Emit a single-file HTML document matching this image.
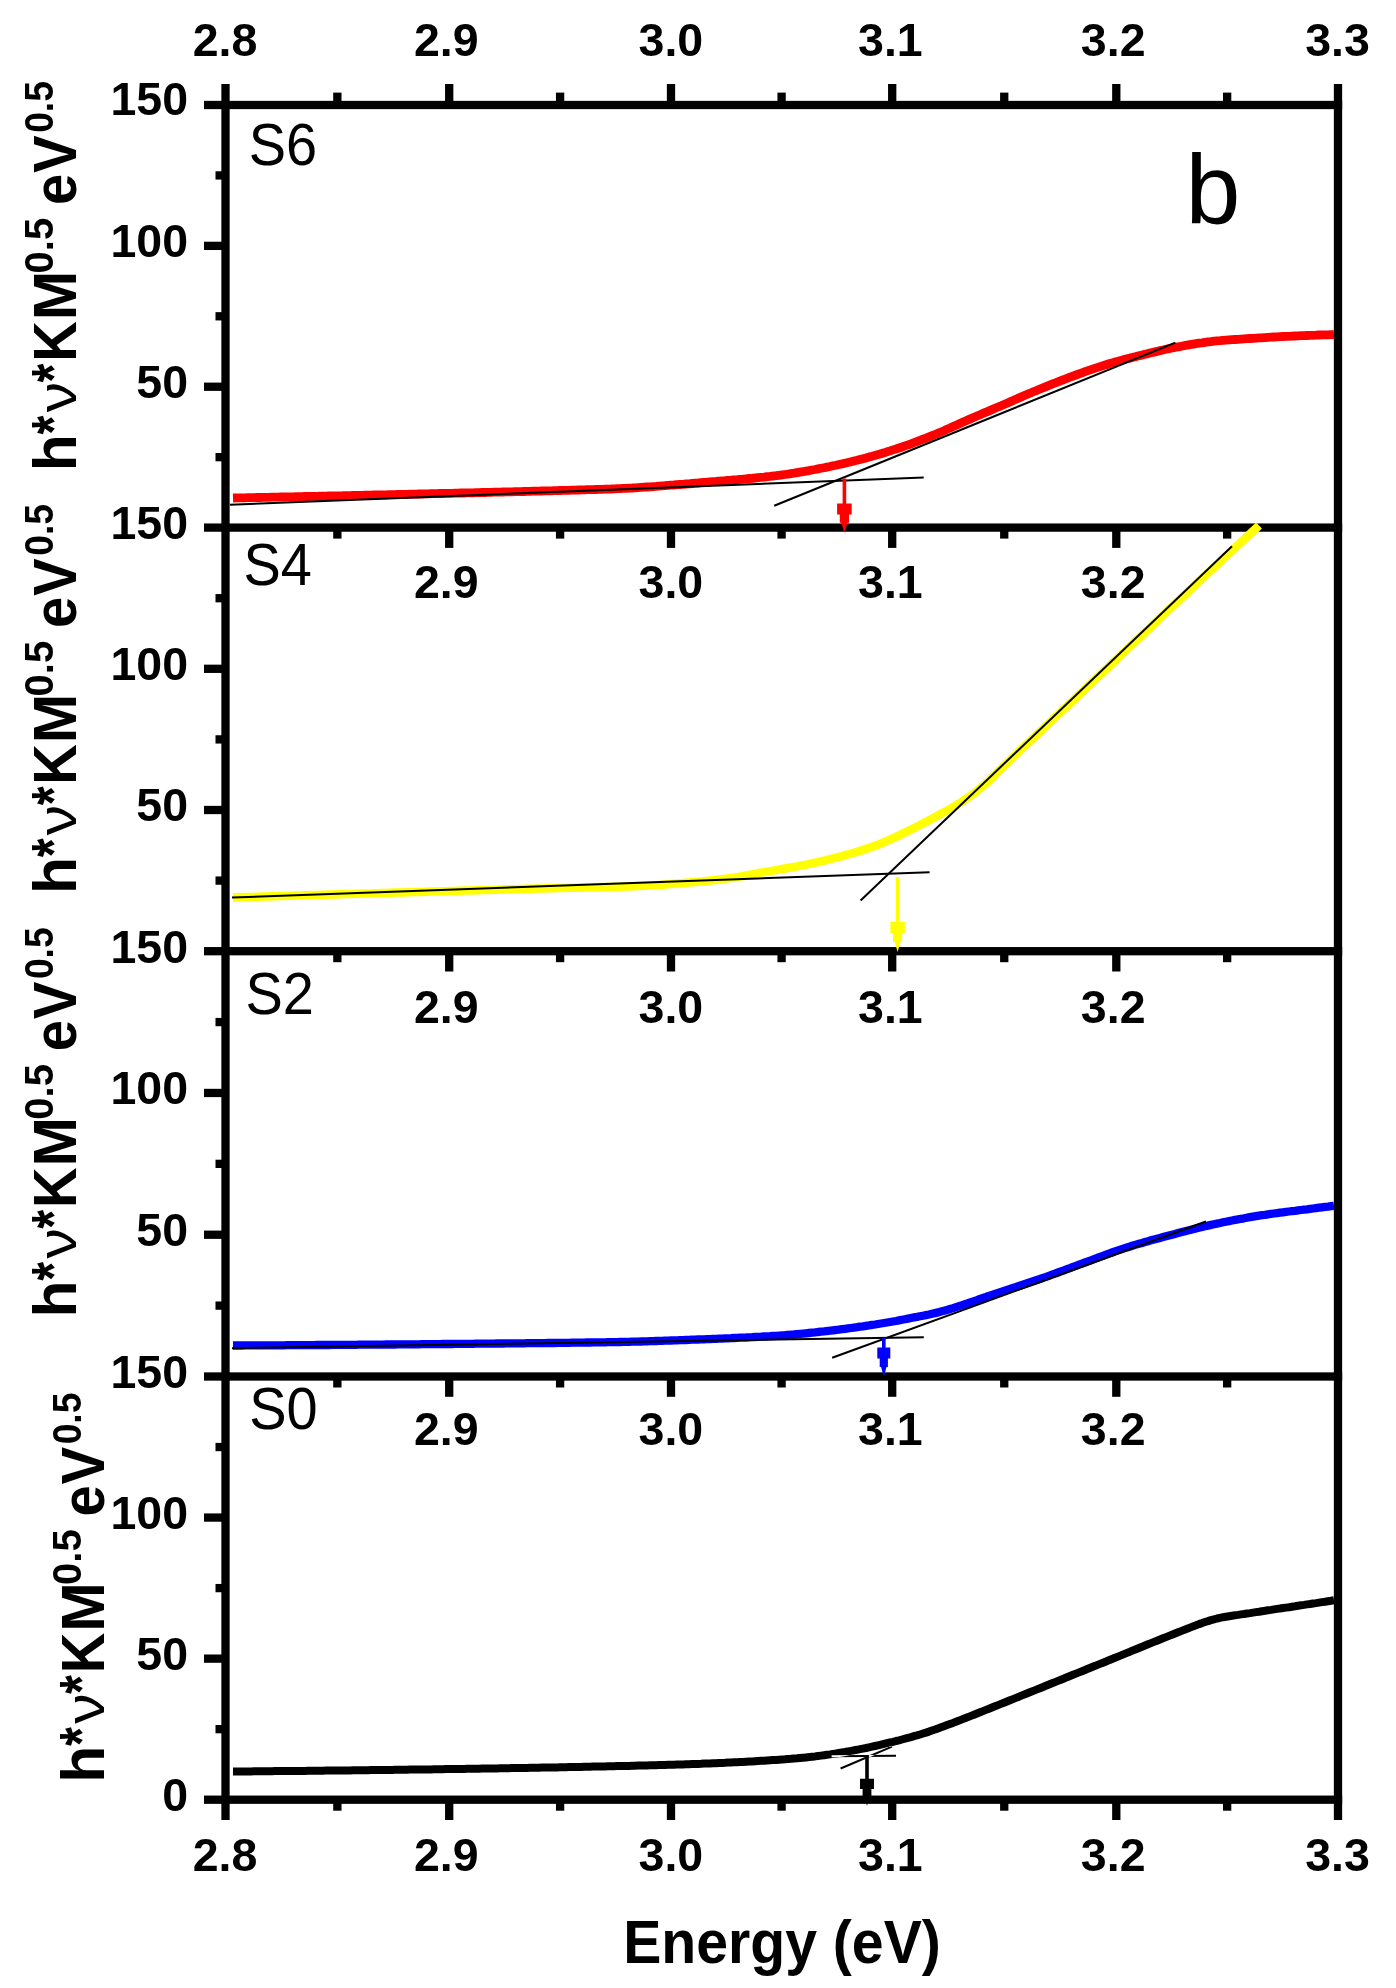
<!DOCTYPE html>
<html><head><meta charset="utf-8"><style>
html,body{margin:0;padding:0;background:#fff;}
svg{display:block;}
</style></head><body>
<svg width="1396" height="1988" viewBox="0 0 1396 1988">
<rect width="1396" height="1988" fill="#fff"/>
<rect x="221.35" y="84" width="8.3" height="1736" fill="#000"/>
<rect x="1333.85" y="84" width="8.3" height="1736" fill="#000"/>
<rect x="204" y="100.85" width="1138.15" height="8.3" fill="#000"/>
<rect x="204" y="523.45" width="1138.15" height="8.3" fill="#000"/>
<rect x="204" y="947.0500000000001" width="1138.15" height="8.3" fill="#000"/>
<rect x="204" y="1372.35" width="1138.15" height="8.3" fill="#000"/>
<rect x="204" y="1795.55" width="1138.15" height="8.3" fill="#000"/>
<rect x="445.05" y="84" width="8.3" height="21" fill="#000"/>
<rect x="666.85" y="84" width="8.3" height="21" fill="#000"/>
<rect x="888.0500000000001" y="84" width="8.3" height="21" fill="#000"/>
<rect x="1112.1499999999999" y="84" width="8.3" height="21" fill="#000"/>
<rect x="333.20000000000005" y="92.6" width="8.3" height="12.400000000000006" fill="#000"/>
<rect x="555.95" y="92.6" width="8.3" height="12.400000000000006" fill="#000"/>
<rect x="777.45" y="92.6" width="8.3" height="12.400000000000006" fill="#000"/>
<rect x="1000.1" y="92.6" width="8.3" height="12.400000000000006" fill="#000"/>
<rect x="1223.0" y="92.6" width="8.3" height="12.400000000000006" fill="#000"/>
<rect x="445.05" y="527.6" width="8.3" height="20.3" fill="#000"/>
<rect x="666.85" y="527.6" width="8.3" height="20.3" fill="#000"/>
<rect x="888.0500000000001" y="527.6" width="8.3" height="20.3" fill="#000"/>
<rect x="1112.1499999999999" y="527.6" width="8.3" height="20.3" fill="#000"/>
<rect x="333.20000000000005" y="527.6" width="8.3" height="11" fill="#000"/>
<rect x="555.95" y="527.6" width="8.3" height="11" fill="#000"/>
<rect x="777.45" y="527.6" width="8.3" height="11" fill="#000"/>
<rect x="1000.1" y="527.6" width="8.3" height="11" fill="#000"/>
<rect x="1223.0" y="527.6" width="8.3" height="11" fill="#000"/>
<rect x="445.05" y="951.2" width="8.3" height="20.3" fill="#000"/>
<rect x="666.85" y="951.2" width="8.3" height="20.3" fill="#000"/>
<rect x="888.0500000000001" y="951.2" width="8.3" height="20.3" fill="#000"/>
<rect x="1112.1499999999999" y="951.2" width="8.3" height="20.3" fill="#000"/>
<rect x="333.20000000000005" y="951.2" width="8.3" height="11" fill="#000"/>
<rect x="555.95" y="951.2" width="8.3" height="11" fill="#000"/>
<rect x="777.45" y="951.2" width="8.3" height="11" fill="#000"/>
<rect x="1000.1" y="951.2" width="8.3" height="11" fill="#000"/>
<rect x="1223.0" y="951.2" width="8.3" height="11" fill="#000"/>
<rect x="445.05" y="1376.5" width="8.3" height="20.3" fill="#000"/>
<rect x="666.85" y="1376.5" width="8.3" height="20.3" fill="#000"/>
<rect x="888.0500000000001" y="1376.5" width="8.3" height="20.3" fill="#000"/>
<rect x="1112.1499999999999" y="1376.5" width="8.3" height="20.3" fill="#000"/>
<rect x="333.20000000000005" y="1376.5" width="8.3" height="11" fill="#000"/>
<rect x="555.95" y="1376.5" width="8.3" height="11" fill="#000"/>
<rect x="777.45" y="1376.5" width="8.3" height="11" fill="#000"/>
<rect x="1000.1" y="1376.5" width="8.3" height="11" fill="#000"/>
<rect x="1223.0" y="1376.5" width="8.3" height="11" fill="#000"/>
<rect x="445.05" y="1799.7" width="8.3" height="20.3" fill="#000"/>
<rect x="666.85" y="1799.7" width="8.3" height="20.3" fill="#000"/>
<rect x="888.0500000000001" y="1799.7" width="8.3" height="20.3" fill="#000"/>
<rect x="1112.1499999999999" y="1799.7" width="8.3" height="20.3" fill="#000"/>
<rect x="333.20000000000005" y="1799.7" width="8.3" height="11" fill="#000"/>
<rect x="555.95" y="1799.7" width="8.3" height="11" fill="#000"/>
<rect x="777.45" y="1799.7" width="8.3" height="11" fill="#000"/>
<rect x="1000.1" y="1799.7" width="8.3" height="11" fill="#000"/>
<rect x="1223.0" y="1799.7" width="8.3" height="11" fill="#000"/>
<rect x="204" y="241.71666666666667" width="21.5" height="8.3" fill="#000"/>
<rect x="204" y="382.58333333333337" width="21.5" height="8.3" fill="#000"/>
<rect x="215.5" y="171.28333333333333" width="10.0" height="8.3" fill="#000"/>
<rect x="215.5" y="312.15000000000003" width="10.0" height="8.3" fill="#000"/>
<rect x="215.5" y="453.0166666666667" width="10.0" height="8.3" fill="#000"/>
<rect x="204" y="664.6500000000001" width="21.5" height="8.3" fill="#000"/>
<rect x="204" y="805.85" width="21.5" height="8.3" fill="#000"/>
<rect x="215.5" y="594.0500000000001" width="10.0" height="8.3" fill="#000"/>
<rect x="215.5" y="735.2500000000001" width="10.0" height="8.3" fill="#000"/>
<rect x="215.5" y="876.45" width="10.0" height="8.3" fill="#000"/>
<rect x="204" y="1088.8166666666666" width="21.5" height="8.3" fill="#000"/>
<rect x="204" y="1230.5833333333333" width="21.5" height="8.3" fill="#000"/>
<rect x="215.5" y="1017.9333333333334" width="10.0" height="8.3" fill="#000"/>
<rect x="215.5" y="1159.6999999999998" width="10.0" height="8.3" fill="#000"/>
<rect x="215.5" y="1301.4666666666667" width="10.0" height="8.3" fill="#000"/>
<rect x="204" y="1513.4166666666665" width="21.5" height="8.3" fill="#000"/>
<rect x="204" y="1654.4833333333333" width="21.5" height="8.3" fill="#000"/>
<rect x="215.5" y="1442.8833333333332" width="10.0" height="8.3" fill="#000"/>
<rect x="215.5" y="1583.9499999999998" width="10.0" height="8.3" fill="#000"/>
<rect x="215.5" y="1725.0166666666667" width="10.0" height="8.3" fill="#000"/>
<text x="188" y="114.6" text-anchor="end" font-family="Liberation Sans, sans-serif" font-weight="bold" font-size="46.5">150</text>
<text x="188" y="257.3" text-anchor="end" font-family="Liberation Sans, sans-serif" font-weight="bold" font-size="46.5">100</text>
<text x="188" y="398.1" text-anchor="end" font-family="Liberation Sans, sans-serif" font-weight="bold" font-size="46.5">50</text>
<text x="188" y="539.0" text-anchor="end" font-family="Liberation Sans, sans-serif" font-weight="bold" font-size="46.5">150</text>
<text x="188" y="680.2" text-anchor="end" font-family="Liberation Sans, sans-serif" font-weight="bold" font-size="46.5">100</text>
<text x="188" y="821.4" text-anchor="end" font-family="Liberation Sans, sans-serif" font-weight="bold" font-size="46.5">50</text>
<text x="188" y="962.6" text-anchor="end" font-family="Liberation Sans, sans-serif" font-weight="bold" font-size="46.5">150</text>
<text x="188" y="1104.4" text-anchor="end" font-family="Liberation Sans, sans-serif" font-weight="bold" font-size="46.5">100</text>
<text x="188" y="1246.1" text-anchor="end" font-family="Liberation Sans, sans-serif" font-weight="bold" font-size="46.5">50</text>
<text x="188" y="1387.9" text-anchor="end" font-family="Liberation Sans, sans-serif" font-weight="bold" font-size="46.5">150</text>
<text x="188" y="1529.0" text-anchor="end" font-family="Liberation Sans, sans-serif" font-weight="bold" font-size="46.5">100</text>
<text x="188" y="1670.0" text-anchor="end" font-family="Liberation Sans, sans-serif" font-weight="bold" font-size="46.5">50</text>
<text x="188" y="1811.1" text-anchor="end" font-family="Liberation Sans, sans-serif" font-weight="bold" font-size="46.5">0</text>
<text x="225.0" y="55.6" text-anchor="middle" font-family="Liberation Sans, sans-serif" font-weight="bold" font-size="46.5">2.8</text>
<text x="446.3" y="55.6" text-anchor="middle" font-family="Liberation Sans, sans-serif" font-weight="bold" font-size="46.5">2.9</text>
<text x="670.9" y="55.6" text-anchor="middle" font-family="Liberation Sans, sans-serif" font-weight="bold" font-size="46.5">3.0</text>
<text x="890.4" y="55.6" text-anchor="middle" font-family="Liberation Sans, sans-serif" font-weight="bold" font-size="46.5">3.1</text>
<text x="1113.2" y="55.6" text-anchor="middle" font-family="Liberation Sans, sans-serif" font-weight="bold" font-size="46.5">3.2</text>
<text x="1337.5" y="55.6" text-anchor="middle" font-family="Liberation Sans, sans-serif" font-weight="bold" font-size="46.5">3.3</text>
<text x="446.3" y="598.4" text-anchor="middle" font-family="Liberation Sans, sans-serif" font-weight="bold" font-size="46.5">2.9</text>
<text x="670.9" y="598.4" text-anchor="middle" font-family="Liberation Sans, sans-serif" font-weight="bold" font-size="46.5">3.0</text>
<text x="890.4" y="598.4" text-anchor="middle" font-family="Liberation Sans, sans-serif" font-weight="bold" font-size="46.5">3.1</text>
<text x="1113.2" y="598.4" text-anchor="middle" font-family="Liberation Sans, sans-serif" font-weight="bold" font-size="46.5">3.2</text>
<text x="446.3" y="1022.6" text-anchor="middle" font-family="Liberation Sans, sans-serif" font-weight="bold" font-size="46.5">2.9</text>
<text x="670.9" y="1022.6" text-anchor="middle" font-family="Liberation Sans, sans-serif" font-weight="bold" font-size="46.5">3.0</text>
<text x="890.4" y="1022.6" text-anchor="middle" font-family="Liberation Sans, sans-serif" font-weight="bold" font-size="46.5">3.1</text>
<text x="1113.2" y="1022.6" text-anchor="middle" font-family="Liberation Sans, sans-serif" font-weight="bold" font-size="46.5">3.2</text>
<text x="446.3" y="1445.0" text-anchor="middle" font-family="Liberation Sans, sans-serif" font-weight="bold" font-size="46.5">2.9</text>
<text x="670.9" y="1445.0" text-anchor="middle" font-family="Liberation Sans, sans-serif" font-weight="bold" font-size="46.5">3.0</text>
<text x="890.4" y="1445.0" text-anchor="middle" font-family="Liberation Sans, sans-serif" font-weight="bold" font-size="46.5">3.1</text>
<text x="1113.2" y="1445.0" text-anchor="middle" font-family="Liberation Sans, sans-serif" font-weight="bold" font-size="46.5">3.2</text>
<text x="225.0" y="1871" text-anchor="middle" font-family="Liberation Sans, sans-serif" font-weight="bold" font-size="46.5">2.8</text>
<text x="446.3" y="1871" text-anchor="middle" font-family="Liberation Sans, sans-serif" font-weight="bold" font-size="46.5">2.9</text>
<text x="670.9" y="1871" text-anchor="middle" font-family="Liberation Sans, sans-serif" font-weight="bold" font-size="46.5">3.0</text>
<text x="890.4" y="1871" text-anchor="middle" font-family="Liberation Sans, sans-serif" font-weight="bold" font-size="46.5">3.1</text>
<text x="1113.2" y="1871" text-anchor="middle" font-family="Liberation Sans, sans-serif" font-weight="bold" font-size="46.5">3.2</text>
<text x="1337.5" y="1871" text-anchor="middle" font-family="Liberation Sans, sans-serif" font-weight="bold" font-size="46.5">3.3</text>
<text transform="translate(248.7,165.3) scale(0.94,1)" font-family="Liberation Sans, sans-serif" font-size="59.5">S6</text>
<text transform="translate(243.5,584.7) scale(0.94,1)" font-family="Liberation Sans, sans-serif" font-size="59.5">S4</text>
<text transform="translate(245.5,1014) scale(0.94,1)" font-family="Liberation Sans, sans-serif" font-size="59.5">S2</text>
<text transform="translate(249.2,1428.6) scale(0.94,1)" font-family="Liberation Sans, sans-serif" font-size="59.5">S0</text>
<text x="1185.5" y="223" font-family="Liberation Sans, sans-serif" font-size="98.7">b</text>
<text transform="translate(76.00,471.22) rotate(-90) scale(1.0,1)" font-family="Liberation Sans, sans-serif" font-weight="bold" font-size="60.5">h</text>
<text transform="translate(74.00,434.44) rotate(-90) scale(0.8,1)" font-family="Liberation Sans, sans-serif" font-weight="bold" font-size="60.5">*</text>
<text transform="translate(76.00,412.30) rotate(-90) scale(1.1,1)" font-family="Liberation Sans, sans-serif" font-weight="normal" font-size="55">ν</text>
<text transform="translate(74.00,382.44) rotate(-90) scale(0.8,1)" font-family="Liberation Sans, sans-serif" font-weight="bold" font-size="60.5">*</text>
<text transform="translate(76.00,361.76) rotate(-90) scale(0.93,1)" font-family="Liberation Sans, sans-serif" font-weight="bold" font-size="60.5">K</text>
<text transform="translate(76.00,320.37) rotate(-90) scale(0.98,1)" font-family="Liberation Sans, sans-serif" font-weight="bold" font-size="60.5">M</text>
<text transform="translate(52.70,273.48) rotate(-90) scale(1.0,1)" font-family="Liberation Sans, sans-serif" font-weight="bold" font-size="40">0.5</text>
<text transform="translate(76.00,205.00) rotate(-90) scale(0.93,1)" font-family="Liberation Sans, sans-serif" font-weight="bold" font-size="60.5">e</text>
<text transform="translate(76.00,172.98) rotate(-90) scale(0.93,1)" font-family="Liberation Sans, sans-serif" font-weight="bold" font-size="60.5">V</text>
<text transform="translate(52.70,132.87) rotate(-90) scale(0.93,1)" font-family="Liberation Sans, sans-serif" font-weight="bold" font-size="40">0.5</text>
<text transform="translate(76.00,894.12) rotate(-90) scale(1.0,1)" font-family="Liberation Sans, sans-serif" font-weight="bold" font-size="60.5">h</text>
<text transform="translate(74.00,857.34) rotate(-90) scale(0.8,1)" font-family="Liberation Sans, sans-serif" font-weight="bold" font-size="60.5">*</text>
<text transform="translate(76.00,835.20) rotate(-90) scale(1.1,1)" font-family="Liberation Sans, sans-serif" font-weight="normal" font-size="55">ν</text>
<text transform="translate(74.00,805.34) rotate(-90) scale(0.8,1)" font-family="Liberation Sans, sans-serif" font-weight="bold" font-size="60.5">*</text>
<text transform="translate(76.00,784.66) rotate(-90) scale(0.93,1)" font-family="Liberation Sans, sans-serif" font-weight="bold" font-size="60.5">K</text>
<text transform="translate(76.00,743.27) rotate(-90) scale(0.98,1)" font-family="Liberation Sans, sans-serif" font-weight="bold" font-size="60.5">M</text>
<text transform="translate(52.70,696.38) rotate(-90) scale(1.0,1)" font-family="Liberation Sans, sans-serif" font-weight="bold" font-size="40">0.5</text>
<text transform="translate(76.00,627.90) rotate(-90) scale(0.93,1)" font-family="Liberation Sans, sans-serif" font-weight="bold" font-size="60.5">e</text>
<text transform="translate(76.00,595.88) rotate(-90) scale(0.93,1)" font-family="Liberation Sans, sans-serif" font-weight="bold" font-size="60.5">V</text>
<text transform="translate(52.70,555.77) rotate(-90) scale(0.93,1)" font-family="Liberation Sans, sans-serif" font-weight="bold" font-size="40">0.5</text>
<text transform="translate(76.00,1317.42) rotate(-90) scale(1.0,1)" font-family="Liberation Sans, sans-serif" font-weight="bold" font-size="60.5">h</text>
<text transform="translate(74.00,1280.64) rotate(-90) scale(0.8,1)" font-family="Liberation Sans, sans-serif" font-weight="bold" font-size="60.5">*</text>
<text transform="translate(76.00,1258.50) rotate(-90) scale(1.1,1)" font-family="Liberation Sans, sans-serif" font-weight="normal" font-size="55">ν</text>
<text transform="translate(74.00,1228.64) rotate(-90) scale(0.8,1)" font-family="Liberation Sans, sans-serif" font-weight="bold" font-size="60.5">*</text>
<text transform="translate(76.00,1207.96) rotate(-90) scale(0.93,1)" font-family="Liberation Sans, sans-serif" font-weight="bold" font-size="60.5">K</text>
<text transform="translate(76.00,1166.57) rotate(-90) scale(0.98,1)" font-family="Liberation Sans, sans-serif" font-weight="bold" font-size="60.5">M</text>
<text transform="translate(52.70,1119.68) rotate(-90) scale(1.0,1)" font-family="Liberation Sans, sans-serif" font-weight="bold" font-size="40">0.5</text>
<text transform="translate(76.00,1051.20) rotate(-90) scale(0.93,1)" font-family="Liberation Sans, sans-serif" font-weight="bold" font-size="60.5">e</text>
<text transform="translate(76.00,1019.18) rotate(-90) scale(0.93,1)" font-family="Liberation Sans, sans-serif" font-weight="bold" font-size="60.5">V</text>
<text transform="translate(52.70,979.07) rotate(-90) scale(0.93,1)" font-family="Liberation Sans, sans-serif" font-weight="bold" font-size="40">0.5</text>
<text transform="translate(104.00,1782.72) rotate(-90) scale(1.0,1)" font-family="Liberation Sans, sans-serif" font-weight="bold" font-size="60.5">h</text>
<text transform="translate(102.00,1745.94) rotate(-90) scale(0.8,1)" font-family="Liberation Sans, sans-serif" font-weight="bold" font-size="60.5">*</text>
<text transform="translate(104.00,1723.80) rotate(-90) scale(1.1,1)" font-family="Liberation Sans, sans-serif" font-weight="normal" font-size="55">ν</text>
<text transform="translate(102.00,1693.94) rotate(-90) scale(0.8,1)" font-family="Liberation Sans, sans-serif" font-weight="bold" font-size="60.5">*</text>
<text transform="translate(104.00,1673.26) rotate(-90) scale(0.93,1)" font-family="Liberation Sans, sans-serif" font-weight="bold" font-size="60.5">K</text>
<text transform="translate(104.00,1631.87) rotate(-90) scale(0.98,1)" font-family="Liberation Sans, sans-serif" font-weight="bold" font-size="60.5">M</text>
<text transform="translate(80.70,1584.98) rotate(-90) scale(1.0,1)" font-family="Liberation Sans, sans-serif" font-weight="bold" font-size="40">0.5</text>
<text transform="translate(104.00,1516.50) rotate(-90) scale(0.93,1)" font-family="Liberation Sans, sans-serif" font-weight="bold" font-size="60.5">e</text>
<text transform="translate(104.00,1484.48) rotate(-90) scale(0.93,1)" font-family="Liberation Sans, sans-serif" font-weight="bold" font-size="60.5">V</text>
<text transform="translate(80.70,1444.37) rotate(-90) scale(0.93,1)" font-family="Liberation Sans, sans-serif" font-weight="bold" font-size="40">0.5</text>
<text transform="translate(782,1963.3) scale(0.945,1)" text-anchor="middle" font-family="Liberation Sans, sans-serif" font-weight="bold" font-size="60.5">Energy (eV)</text>
<path d="M233.0,498.0 L236.0,497.9 L239.0,497.9 L242.0,497.8 L245.0,497.8 L248.0,497.7 L251.0,497.6 L254.0,497.6 L257.0,497.5 L260.0,497.5 L263.0,497.4 L266.0,497.3 L269.0,497.3 L272.0,497.2 L275.0,497.2 L278.0,497.1 L281.0,497.0 L284.0,497.0 L287.0,496.9 L290.0,496.9 L293.0,496.8 L296.0,496.7 L299.0,496.7 L302.0,496.6 L305.0,496.5 L308.0,496.5 L311.0,496.4 L314.0,496.4 L317.0,496.3 L320.0,496.2 L323.0,496.2 L326.0,496.1 L329.0,496.0 L332.0,496.0 L335.0,495.9 L338.0,495.8 L341.0,495.8 L344.0,495.7 L347.0,495.6 L350.0,495.6 L353.0,495.5 L356.0,495.4 L359.0,495.4 L362.0,495.3 L365.0,495.2 L368.0,495.2 L371.0,495.1 L374.0,495.0 L377.0,495.0 L380.0,494.9 L383.0,494.8 L386.0,494.8 L389.0,494.7 L392.0,494.6 L395.0,494.6 L398.0,494.5 L401.0,494.4 L404.0,494.4 L407.0,494.3 L410.0,494.2 L413.0,494.2 L416.0,494.1 L419.0,494.0 L422.0,494.0 L425.0,493.9 L428.0,493.8 L431.0,493.7 L434.0,493.7 L437.0,493.6 L440.0,493.5 L443.0,493.5 L446.0,493.4 L449.0,493.3 L452.0,493.3 L455.0,493.2 L458.0,493.1 L461.0,493.0 L464.0,493.0 L467.0,492.9 L470.0,492.8 L473.0,492.8 L476.0,492.7 L479.0,492.6 L482.0,492.5 L485.0,492.5 L488.0,492.4 L491.0,492.3 L494.0,492.2 L497.0,492.2 L500.0,492.1 L503.0,492.0 L506.0,491.9 L509.0,491.9 L512.0,491.8 L515.0,491.7 L518.0,491.6 L521.0,491.6 L524.0,491.5 L527.0,491.4 L530.0,491.3 L533.0,491.2 L536.0,491.2 L539.0,491.1 L542.0,491.0 L545.0,490.9 L548.0,490.8 L551.0,490.8 L554.0,490.7 L557.0,490.6 L560.0,490.5 L563.0,490.4 L566.0,490.3 L569.0,490.3 L572.0,490.2 L575.0,490.1 L578.0,490.0 L581.0,489.9 L584.0,489.8 L587.0,489.7 L590.0,489.7 L593.0,489.6 L596.0,489.5 L599.0,489.4 L602.0,489.3 L605.0,489.2 L608.0,489.1 L611.0,489.0 L614.0,488.8 L617.0,488.7 L620.0,488.6 L623.0,488.4 L626.0,488.3 L629.0,488.1 L632.0,488.0 L635.0,487.8 L638.0,487.6 L641.0,487.4 L644.0,487.2 L647.0,487.0 L650.0,486.8 L653.0,486.6 L656.0,486.4 L659.0,486.1 L662.0,485.9 L665.0,485.7 L668.0,485.4 L671.0,485.2 L674.0,485.0 L677.0,484.7 L680.0,484.5 L683.0,484.3 L686.0,484.0 L689.0,483.8 L692.0,483.5 L695.0,483.2 L698.0,483.0 L701.0,482.7 L704.0,482.4 L707.0,482.2 L710.0,481.9 L713.0,481.6 L716.0,481.4 L719.0,481.1 L722.0,480.8 L725.0,480.6 L728.0,480.3 L731.0,480.1 L734.0,479.8 L737.0,479.6 L740.0,479.3 L743.0,479.1 L746.0,478.8 L749.0,478.5 L752.0,478.3 L755.0,478.0 L758.0,477.7 L761.0,477.4 L764.0,477.1 L767.0,476.7 L770.0,476.4 L773.0,476.0 L776.0,475.7 L779.0,475.3 L782.0,474.9 L785.0,474.5 L788.0,474.1 L791.0,473.6 L794.0,473.2 L797.0,472.7 L800.0,472.2 L803.0,471.7 L806.0,471.1 L809.0,470.6 L812.0,470.0 L815.0,469.5 L818.0,468.9 L821.0,468.3 L824.0,467.7 L827.0,467.1 L830.0,466.5 L833.0,465.8 L836.0,465.2 L839.0,464.5 L842.0,463.9 L845.0,463.2 L848.0,462.5 L851.0,461.8 L854.0,461.0 L857.0,460.3 L860.0,459.5 L863.0,458.7 L866.0,457.9 L869.0,457.1 L872.0,456.3 L875.0,455.4 L878.0,454.6 L881.0,453.7 L884.0,452.8 L887.0,451.8 L890.0,450.9 L893.0,449.9 L896.0,449.0 L899.0,448.0 L902.0,447.0 L905.0,445.9 L908.0,444.9 L911.0,443.8 L914.0,442.7 L917.0,441.5 L920.0,440.4 L923.0,439.2 L926.0,438.1 L929.0,436.9 L932.0,435.7 L935.0,434.5 L938.0,433.2 L941.0,432.0 L944.0,430.7 L947.0,429.3 L950.0,428.0 L953.0,426.6 L956.0,425.3 L959.0,423.9 L962.0,422.6 L965.0,421.2 L968.0,419.9 L971.0,418.6 L974.0,417.3 L977.0,416.0 L980.0,414.7 L983.0,413.4 L986.0,412.2 L989.0,410.9 L992.0,409.6 L995.0,408.3 L998.0,407.0 L1001.0,405.8 L1004.0,404.5 L1007.0,403.2 L1010.0,401.9 L1013.0,400.6 L1016.0,399.2 L1019.0,397.9 L1022.0,396.6 L1025.0,395.3 L1028.0,394.0 L1031.0,392.8 L1034.0,391.5 L1037.0,390.3 L1040.0,389.0 L1043.0,387.8 L1046.0,386.6 L1049.0,385.4 L1052.0,384.2 L1055.0,383.0 L1058.0,381.8 L1061.0,380.6 L1064.0,379.5 L1067.0,378.3 L1070.0,377.2 L1073.0,376.1 L1076.0,375.0 L1079.0,373.9 L1082.0,372.8 L1085.0,371.7 L1088.0,370.7 L1091.0,369.7 L1094.0,368.6 L1097.0,367.6 L1100.0,366.6 L1103.0,365.7 L1106.0,364.7 L1109.0,363.8 L1112.0,362.9 L1115.0,362.1 L1118.0,361.3 L1121.0,360.4 L1124.0,359.6 L1127.0,358.8 L1130.0,358.1 L1133.0,357.3 L1136.0,356.6 L1139.0,355.8 L1142.0,355.1 L1145.0,354.3 L1148.0,353.6 L1151.0,352.8 L1154.0,352.1 L1157.0,351.4 L1160.0,350.6 L1163.0,350.0 L1166.0,349.3 L1169.0,348.6 L1172.0,348.0 L1175.0,347.4 L1178.0,346.8 L1181.0,346.3 L1184.0,345.7 L1187.0,345.2 L1190.0,344.7 L1193.0,344.2 L1196.0,343.7 L1199.0,343.2 L1202.0,342.8 L1205.0,342.3 L1208.0,341.9 L1211.0,341.6 L1214.0,341.2 L1217.0,340.9 L1220.0,340.7 L1223.0,340.4 L1226.0,340.1 L1229.0,339.9 L1232.0,339.7 L1235.0,339.5 L1238.0,339.3 L1241.0,339.1 L1244.0,338.9 L1247.0,338.7 L1250.0,338.5 L1253.0,338.3 L1256.0,338.1 L1259.0,337.9 L1262.0,337.8 L1265.0,337.6 L1268.0,337.4 L1271.0,337.2 L1274.0,337.0 L1277.0,336.9 L1280.0,336.7 L1283.0,336.5 L1286.0,336.4 L1289.0,336.3 L1292.0,336.1 L1295.0,336.0 L1298.0,335.9 L1301.0,335.7 L1304.0,335.6 L1307.0,335.5 L1310.0,335.4 L1313.0,335.3 L1316.0,335.2 L1319.0,335.0 L1322.0,334.9 L1325.0,334.9 L1328.0,334.8 L1331.0,334.7 L1334.0,334.6" fill="none" stroke="#ff0000" stroke-width="8.8" stroke-linejoin="round"/>
<line x1="230" y1="504.8" x2="923.7" y2="477.4" stroke="#000" stroke-width="2"/>
<line x1="774.2" y1="505.8" x2="1175.4" y2="342.6" stroke="#000" stroke-width="2"/>
<rect x="842.60" y="478.5" width="3.6" height="27.0" fill="#ff0000"/>
<path d="M837.1,503.5 L851.7,503.5 L851.7,514.6 L849.0,514.6 L849.0,522.8 L847.5,522.8 L844.4,532.7 L841.3,522.8 L839.8,522.8 L839.8,514.6 L837.1,514.6 Z" fill="#ff0000"/>
<path d="M233.0,897.5 L236.0,897.4 L239.0,897.3 L242.0,897.2 L245.0,897.1 L248.0,897.0 L251.0,896.9 L254.0,896.9 L257.0,896.8 L260.0,896.7 L263.0,896.6 L266.0,896.5 L269.0,896.4 L272.0,896.3 L275.0,896.2 L278.0,896.1 L281.0,896.0 L284.0,895.9 L287.0,895.9 L290.0,895.8 L293.0,895.7 L296.0,895.6 L299.0,895.5 L302.0,895.4 L305.0,895.3 L308.0,895.2 L311.0,895.1 L314.0,895.0 L317.0,895.0 L320.0,894.9 L323.0,894.8 L326.0,894.7 L329.0,894.6 L332.0,894.5 L335.0,894.4 L338.0,894.3 L341.0,894.2 L344.0,894.1 L347.0,894.1 L350.0,894.0 L353.0,893.9 L356.0,893.8 L359.0,893.7 L362.0,893.6 L365.0,893.5 L368.0,893.4 L371.0,893.4 L374.0,893.3 L377.0,893.2 L380.0,893.1 L383.0,893.0 L386.0,892.9 L389.0,892.8 L392.0,892.7 L395.0,892.6 L398.0,892.6 L401.0,892.5 L404.0,892.4 L407.0,892.3 L410.0,892.2 L413.0,892.1 L416.0,892.0 L419.0,891.9 L422.0,891.9 L425.0,891.8 L428.0,891.7 L431.0,891.6 L434.0,891.5 L437.0,891.4 L440.0,891.3 L443.0,891.2 L446.0,891.2 L449.0,891.1 L452.0,891.0 L455.0,890.9 L458.0,890.8 L461.0,890.7 L464.0,890.6 L467.0,890.5 L470.0,890.5 L473.0,890.4 L476.0,890.3 L479.0,890.2 L482.0,890.1 L485.0,890.0 L488.0,889.9 L491.0,889.9 L494.0,889.8 L497.0,889.7 L500.0,889.6 L503.0,889.5 L506.0,889.4 L509.0,889.3 L512.0,889.3 L515.0,889.2 L518.0,889.1 L521.0,889.0 L524.0,888.9 L527.0,888.8 L530.0,888.8 L533.0,888.7 L536.0,888.6 L539.0,888.5 L542.0,888.5 L545.0,888.4 L548.0,888.3 L551.0,888.2 L554.0,888.2 L557.0,888.1 L560.0,888.0 L563.0,888.0 L566.0,887.9 L569.0,887.8 L572.0,887.8 L575.0,887.7 L578.0,887.7 L581.0,887.6 L584.0,887.5 L587.0,887.5 L590.0,887.4 L593.0,887.3 L596.0,887.3 L599.0,887.2 L602.0,887.1 L605.0,887.1 L608.0,887.0 L611.0,886.9 L614.0,886.8 L617.0,886.8 L620.0,886.7 L623.0,886.6 L626.0,886.5 L629.0,886.4 L632.0,886.3 L635.0,886.2 L638.0,886.1 L641.0,885.9 L644.0,885.8 L647.0,885.7 L650.0,885.5 L653.0,885.3 L656.0,885.2 L659.0,885.0 L662.0,884.7 L665.0,884.5 L668.0,884.3 L671.0,884.1 L674.0,883.8 L677.0,883.6 L680.0,883.3 L683.0,883.1 L686.0,882.8 L689.0,882.6 L692.0,882.3 L695.0,882.0 L698.0,881.8 L701.0,881.5 L704.0,881.2 L707.0,880.9 L710.0,880.6 L713.0,880.2 L716.0,879.9 L719.0,879.6 L722.0,879.2 L725.0,878.8 L728.0,878.4 L731.0,878.0 L734.0,877.6 L737.0,877.1 L740.0,876.6 L743.0,876.1 L746.0,875.5 L749.0,875.0 L752.0,874.4 L755.0,873.8 L758.0,873.2 L761.0,872.6 L764.0,872.1 L767.0,871.6 L770.0,871.1 L773.0,870.6 L776.0,870.1 L779.0,869.6 L782.0,869.0 L785.0,868.5 L788.0,868.0 L791.0,867.5 L794.0,866.9 L797.0,866.4 L800.0,865.8 L803.0,865.2 L806.0,864.6 L809.0,863.9 L812.0,863.3 L815.0,862.6 L818.0,862.0 L821.0,861.3 L824.0,860.6 L827.0,859.9 L830.0,859.1 L833.0,858.4 L836.0,857.6 L839.0,856.9 L842.0,856.1 L845.0,855.2 L848.0,854.4 L851.0,853.6 L854.0,852.7 L857.0,851.8 L860.0,850.9 L863.0,849.9 L866.0,848.9 L869.0,847.9 L872.0,846.9 L875.0,845.8 L878.0,844.7 L881.0,843.5 L884.0,842.2 L887.0,840.9 L890.0,839.6 L893.0,838.2 L896.0,836.8 L899.0,835.4 L902.0,833.9 L905.0,832.4 L908.0,831.0 L911.0,829.5 L914.0,828.0 L917.0,826.5 L920.0,825.0 L923.0,823.4 L926.0,821.9 L929.0,820.3 L932.0,818.7 L935.0,817.1 L938.0,815.5 L941.0,813.8 L944.0,812.2 L947.0,810.6 L950.0,808.9 L953.0,807.2 L956.0,805.4 L959.0,803.5 L962.0,801.6 L965.0,799.6 L968.0,797.5 L971.0,795.4 L974.0,793.2 L977.0,790.9 L980.0,788.5 L983.0,786.0 L986.0,783.4 L989.0,780.6 L992.0,777.8 L995.0,774.8 L998.0,771.8 L1001.0,768.9 L1004.0,766.0 L1007.0,763.1 L1010.0,760.2 L1013.0,757.3 L1016.0,754.4 L1019.0,751.5 L1022.0,748.7 L1025.0,745.8 L1028.0,743.0 L1031.0,740.1 L1034.0,737.3 L1037.0,734.4 L1040.0,731.6 L1043.0,728.7 L1046.0,725.9 L1049.0,723.1 L1052.0,720.3 L1055.0,717.4 L1058.0,714.6 L1061.0,711.8 L1064.0,708.9 L1067.0,706.1 L1070.0,703.3 L1073.0,700.5 L1076.0,697.6 L1079.0,694.8 L1082.0,692.0 L1085.0,689.2 L1088.0,686.3 L1091.0,683.5 L1094.0,680.7 L1097.0,677.8 L1100.0,675.0 L1103.0,672.2 L1106.0,669.3 L1109.0,666.5 L1112.0,663.6 L1115.0,660.8 L1118.0,658.0 L1121.0,655.1 L1124.0,652.3 L1127.0,649.4 L1130.0,646.6 L1133.0,643.7 L1136.0,640.9 L1139.0,638.1 L1142.0,635.2 L1145.0,632.4 L1148.0,629.5 L1151.0,626.7 L1154.0,623.9 L1157.0,621.0 L1160.0,618.2 L1163.0,615.4 L1166.0,612.5 L1169.0,609.7 L1172.0,606.9 L1175.0,604.0 L1178.0,601.2 L1181.0,598.4 L1184.0,595.5 L1187.0,592.7 L1190.0,589.9 L1193.0,587.1 L1196.0,584.3 L1199.0,581.4 L1202.0,578.6 L1205.0,575.8 L1208.0,573.0 L1211.0,570.2 L1214.0,567.4 L1217.0,564.6 L1220.0,561.8 L1223.0,559.0 L1226.0,556.2 L1229.0,553.4 L1232.0,550.6 L1235.0,547.8 L1238.0,545.0 L1241.0,542.2 L1244.0,539.4 L1247.0,536.6 L1250.0,533.9 L1253.0,531.1 L1256.0,528.3 L1259.0,525.5" fill="none" stroke="#ffff00" stroke-width="8.5" stroke-linejoin="round"/>
<line x1="232" y1="897.5" x2="929.6" y2="872.2" stroke="#000" stroke-width="2"/>
<line x1="860.6" y1="900.5" x2="1232" y2="546.3" stroke="#000" stroke-width="2"/>
<rect x="895.80" y="877.3" width="3.6" height="46.5" fill="#ffff00"/>
<path d="M890.4,921.8 L904.8,921.8 L904.8,933.3 L902.1,933.3 L902.1,941.7 L900.6,941.7 L897.6,952 L894.6,941.7 L893.1,941.7 L893.1,933.3 L890.4,933.3 Z" fill="#ffff00"/>
<path d="M233.0,1345.5 L236.0,1345.5 L239.0,1345.5 L242.0,1345.5 L245.0,1345.4 L248.0,1345.4 L251.0,1345.4 L254.0,1345.4 L257.0,1345.4 L260.0,1345.4 L263.0,1345.4 L266.0,1345.3 L269.0,1345.3 L272.0,1345.3 L275.0,1345.3 L278.0,1345.3 L281.0,1345.3 L284.0,1345.3 L287.0,1345.2 L290.0,1345.2 L293.0,1345.2 L296.0,1345.2 L299.0,1345.2 L302.0,1345.1 L305.0,1345.1 L308.0,1345.1 L311.0,1345.1 L314.0,1345.1 L317.0,1345.0 L320.0,1345.0 L323.0,1345.0 L326.0,1345.0 L329.0,1345.0 L332.0,1344.9 L335.0,1344.9 L338.0,1344.9 L341.0,1344.9 L344.0,1344.9 L347.0,1344.8 L350.0,1344.8 L353.0,1344.8 L356.0,1344.8 L359.0,1344.7 L362.0,1344.7 L365.0,1344.7 L368.0,1344.7 L371.0,1344.7 L374.0,1344.6 L377.0,1344.6 L380.0,1344.6 L383.0,1344.6 L386.0,1344.5 L389.0,1344.5 L392.0,1344.5 L395.0,1344.5 L398.0,1344.4 L401.0,1344.4 L404.0,1344.4 L407.0,1344.4 L410.0,1344.3 L413.0,1344.3 L416.0,1344.3 L419.0,1344.3 L422.0,1344.2 L425.0,1344.2 L428.0,1344.2 L431.0,1344.1 L434.0,1344.1 L437.0,1344.1 L440.0,1344.1 L443.0,1344.0 L446.0,1344.0 L449.0,1344.0 L452.0,1344.0 L455.0,1343.9 L458.0,1343.9 L461.0,1343.9 L464.0,1343.8 L467.0,1343.8 L470.0,1343.8 L473.0,1343.8 L476.0,1343.7 L479.0,1343.7 L482.0,1343.7 L485.0,1343.6 L488.0,1343.6 L491.0,1343.6 L494.0,1343.6 L497.0,1343.5 L500.0,1343.5 L503.0,1343.5 L506.0,1343.4 L509.0,1343.4 L512.0,1343.4 L515.0,1343.4 L518.0,1343.3 L521.0,1343.3 L524.0,1343.3 L527.0,1343.2 L530.0,1343.2 L533.0,1343.2 L536.0,1343.1 L539.0,1343.1 L542.0,1343.1 L545.0,1343.1 L548.0,1343.0 L551.0,1343.0 L554.0,1343.0 L557.0,1342.9 L560.0,1342.9 L563.0,1342.8 L566.0,1342.8 L569.0,1342.8 L572.0,1342.7 L575.0,1342.7 L578.0,1342.7 L581.0,1342.6 L584.0,1342.6 L587.0,1342.5 L590.0,1342.5 L593.0,1342.4 L596.0,1342.4 L599.0,1342.4 L602.0,1342.3 L605.0,1342.3 L608.0,1342.2 L611.0,1342.2 L614.0,1342.1 L617.0,1342.1 L620.0,1342.0 L623.0,1341.9 L626.0,1341.9 L629.0,1341.8 L632.0,1341.7 L635.0,1341.7 L638.0,1341.6 L641.0,1341.5 L644.0,1341.4 L647.0,1341.3 L650.0,1341.2 L653.0,1341.1 L656.0,1341.0 L659.0,1340.9 L662.0,1340.8 L665.0,1340.7 L668.0,1340.6 L671.0,1340.5 L674.0,1340.4 L677.0,1340.3 L680.0,1340.2 L683.0,1340.1 L686.0,1340.0 L689.0,1339.9 L692.0,1339.7 L695.0,1339.6 L698.0,1339.5 L701.0,1339.4 L704.0,1339.3 L707.0,1339.2 L710.0,1339.1 L713.0,1338.9 L716.0,1338.8 L719.0,1338.7 L722.0,1338.6 L725.0,1338.4 L728.0,1338.3 L731.0,1338.2 L734.0,1338.0 L737.0,1337.9 L740.0,1337.7 L743.0,1337.6 L746.0,1337.5 L749.0,1337.3 L752.0,1337.2 L755.0,1337.0 L758.0,1336.8 L761.0,1336.7 L764.0,1336.5 L767.0,1336.3 L770.0,1336.2 L773.0,1336.0 L776.0,1335.8 L779.0,1335.6 L782.0,1335.4 L785.0,1335.2 L788.0,1334.9 L791.0,1334.7 L794.0,1334.5 L797.0,1334.2 L800.0,1333.9 L803.0,1333.6 L806.0,1333.3 L809.0,1333.0 L812.0,1332.7 L815.0,1332.4 L818.0,1332.0 L821.0,1331.7 L824.0,1331.4 L827.0,1331.0 L830.0,1330.7 L833.0,1330.3 L836.0,1330.0 L839.0,1329.6 L842.0,1329.2 L845.0,1328.8 L848.0,1328.4 L851.0,1328.0 L854.0,1327.6 L857.0,1327.2 L860.0,1326.7 L863.0,1326.3 L866.0,1325.8 L869.0,1325.4 L872.0,1324.9 L875.0,1324.5 L878.0,1324.0 L881.0,1323.5 L884.0,1323.0 L887.0,1322.5 L890.0,1322.0 L893.0,1321.5 L896.0,1321.0 L899.0,1320.4 L902.0,1319.8 L905.0,1319.2 L908.0,1318.6 L911.0,1318.0 L914.0,1317.4 L917.0,1316.9 L920.0,1316.3 L923.0,1315.7 L926.0,1315.1 L929.0,1314.5 L932.0,1313.8 L935.0,1313.1 L938.0,1312.4 L941.0,1311.6 L944.0,1310.8 L947.0,1309.9 L950.0,1309.0 L953.0,1308.1 L956.0,1307.1 L959.0,1306.1 L962.0,1305.2 L965.0,1304.2 L968.0,1303.2 L971.0,1302.1 L974.0,1301.1 L977.0,1300.1 L980.0,1299.0 L983.0,1298.0 L986.0,1297.0 L989.0,1295.9 L992.0,1294.9 L995.0,1293.9 L998.0,1292.9 L1001.0,1291.9 L1004.0,1290.9 L1007.0,1289.9 L1010.0,1288.9 L1013.0,1287.9 L1016.0,1287.0 L1019.0,1286.0 L1022.0,1285.0 L1025.0,1284.0 L1028.0,1283.0 L1031.0,1282.0 L1034.0,1281.0 L1037.0,1280.0 L1040.0,1279.0 L1043.0,1277.9 L1046.0,1276.9 L1049.0,1275.8 L1052.0,1274.7 L1055.0,1273.6 L1058.0,1272.5 L1061.0,1271.4 L1064.0,1270.3 L1067.0,1269.2 L1070.0,1268.1 L1073.0,1266.9 L1076.0,1265.8 L1079.0,1264.7 L1082.0,1263.6 L1085.0,1262.5 L1088.0,1261.4 L1091.0,1260.3 L1094.0,1259.2 L1097.0,1258.0 L1100.0,1256.9 L1103.0,1255.8 L1106.0,1254.7 L1109.0,1253.6 L1112.0,1252.5 L1115.0,1251.4 L1118.0,1250.4 L1121.0,1249.4 L1124.0,1248.4 L1127.0,1247.4 L1130.0,1246.5 L1133.0,1245.5 L1136.0,1244.6 L1139.0,1243.7 L1142.0,1242.9 L1145.0,1242.0 L1148.0,1241.2 L1151.0,1240.3 L1154.0,1239.5 L1157.0,1238.7 L1160.0,1237.9 L1163.0,1237.1 L1166.0,1236.3 L1169.0,1235.5 L1172.0,1234.7 L1175.0,1233.9 L1178.0,1233.1 L1181.0,1232.3 L1184.0,1231.5 L1187.0,1230.7 L1190.0,1230.0 L1193.0,1229.2 L1196.0,1228.4 L1199.0,1227.7 L1202.0,1227.0 L1205.0,1226.3 L1208.0,1225.6 L1211.0,1224.9 L1214.0,1224.2 L1217.0,1223.6 L1220.0,1223.0 L1223.0,1222.3 L1226.0,1221.7 L1229.0,1221.1 L1232.0,1220.5 L1235.0,1219.9 L1238.0,1219.4 L1241.0,1218.8 L1244.0,1218.3 L1247.0,1217.7 L1250.0,1217.2 L1253.0,1216.7 L1256.0,1216.2 L1259.0,1215.7 L1262.0,1215.2 L1265.0,1214.8 L1268.0,1214.3 L1271.0,1213.9 L1274.0,1213.5 L1277.0,1213.1 L1280.0,1212.7 L1283.0,1212.3 L1286.0,1211.9 L1289.0,1211.5 L1292.0,1211.1 L1295.0,1210.8 L1298.0,1210.4 L1301.0,1210.0 L1304.0,1209.6 L1307.0,1209.3 L1310.0,1208.9 L1313.0,1208.5 L1316.0,1208.1 L1319.0,1207.7 L1322.0,1207.3 L1325.0,1206.9 L1328.0,1206.6 L1331.0,1206.2 L1334.0,1205.8" fill="none" stroke="#0000ff" stroke-width="8.3" stroke-linejoin="round"/>
<line x1="232" y1="1348.2" x2="923.8" y2="1337.3" stroke="#000" stroke-width="2"/>
<line x1="832.2" y1="1357.7" x2="1205.9" y2="1221.5" stroke="#000" stroke-width="2"/>
<rect x="882.00" y="1338" width="3.6" height="11.400000000000091" fill="#0000ff"/>
<path d="M877.3,1347.4 L890.3,1347.4 L890.3,1358.6 L887.9,1358.6 L887.9,1366.9 L886.5,1366.9 L883.8,1377 L881.1,1366.9 L879.7,1366.9 L879.7,1358.6 L877.3,1358.6 Z" fill="#0000ff"/>
<path d="M233.0,1771.5 L236.0,1771.5 L239.0,1771.5 L242.0,1771.4 L245.0,1771.4 L248.0,1771.4 L251.0,1771.4 L254.0,1771.3 L257.0,1771.3 L260.0,1771.3 L263.0,1771.3 L266.0,1771.2 L269.0,1771.2 L272.0,1771.2 L275.0,1771.1 L278.0,1771.1 L281.0,1771.1 L284.0,1771.1 L287.0,1771.0 L290.0,1771.0 L293.0,1771.0 L296.0,1770.9 L299.0,1770.9 L302.0,1770.9 L305.0,1770.9 L308.0,1770.8 L311.0,1770.8 L314.0,1770.8 L317.0,1770.7 L320.0,1770.7 L323.0,1770.7 L326.0,1770.6 L329.0,1770.6 L332.0,1770.6 L335.0,1770.5 L338.0,1770.5 L341.0,1770.5 L344.0,1770.4 L347.0,1770.4 L350.0,1770.4 L353.0,1770.3 L356.0,1770.3 L359.0,1770.3 L362.0,1770.2 L365.0,1770.2 L368.0,1770.2 L371.0,1770.1 L374.0,1770.1 L377.0,1770.0 L380.0,1770.0 L383.0,1770.0 L386.0,1769.9 L389.0,1769.9 L392.0,1769.9 L395.0,1769.8 L398.0,1769.8 L401.0,1769.7 L404.0,1769.7 L407.0,1769.7 L410.0,1769.6 L413.0,1769.6 L416.0,1769.6 L419.0,1769.5 L422.0,1769.5 L425.0,1769.4 L428.0,1769.4 L431.0,1769.4 L434.0,1769.3 L437.0,1769.3 L440.0,1769.2 L443.0,1769.2 L446.0,1769.1 L449.0,1769.1 L452.0,1769.1 L455.0,1769.0 L458.0,1769.0 L461.0,1768.9 L464.0,1768.9 L467.0,1768.8 L470.0,1768.8 L473.0,1768.8 L476.0,1768.7 L479.0,1768.7 L482.0,1768.6 L485.0,1768.6 L488.0,1768.5 L491.0,1768.5 L494.0,1768.4 L497.0,1768.4 L500.0,1768.3 L503.0,1768.3 L506.0,1768.2 L509.0,1768.2 L512.0,1768.1 L515.0,1768.1 L518.0,1768.0 L521.0,1768.0 L524.0,1767.9 L527.0,1767.9 L530.0,1767.8 L533.0,1767.8 L536.0,1767.7 L539.0,1767.7 L542.0,1767.6 L545.0,1767.6 L548.0,1767.5 L551.0,1767.5 L554.0,1767.4 L557.0,1767.4 L560.0,1767.3 L563.0,1767.2 L566.0,1767.2 L569.0,1767.1 L572.0,1767.1 L575.0,1767.0 L578.0,1766.9 L581.0,1766.9 L584.0,1766.8 L587.0,1766.8 L590.0,1766.7 L593.0,1766.6 L596.0,1766.6 L599.0,1766.5 L602.0,1766.5 L605.0,1766.4 L608.0,1766.3 L611.0,1766.3 L614.0,1766.2 L617.0,1766.1 L620.0,1766.1 L623.0,1766.0 L626.0,1765.9 L629.0,1765.9 L632.0,1765.8 L635.0,1765.7 L638.0,1765.6 L641.0,1765.6 L644.0,1765.5 L647.0,1765.4 L650.0,1765.3 L653.0,1765.3 L656.0,1765.2 L659.0,1765.1 L662.0,1765.0 L665.0,1764.9 L668.0,1764.8 L671.0,1764.7 L674.0,1764.7 L677.0,1764.6 L680.0,1764.5 L683.0,1764.4 L686.0,1764.3 L689.0,1764.2 L692.0,1764.1 L695.0,1764.0 L698.0,1763.9 L701.0,1763.8 L704.0,1763.6 L707.0,1763.5 L710.0,1763.4 L713.0,1763.3 L716.0,1763.2 L719.0,1763.0 L722.0,1762.9 L725.0,1762.8 L728.0,1762.6 L731.0,1762.5 L734.0,1762.3 L737.0,1762.2 L740.0,1762.0 L743.0,1761.9 L746.0,1761.7 L749.0,1761.5 L752.0,1761.4 L755.0,1761.2 L758.0,1761.0 L761.0,1760.8 L764.0,1760.7 L767.0,1760.5 L770.0,1760.3 L773.0,1760.1 L776.0,1759.9 L779.0,1759.7 L782.0,1759.5 L785.0,1759.3 L788.0,1759.0 L791.0,1758.8 L794.0,1758.5 L797.0,1758.3 L800.0,1758.0 L803.0,1757.7 L806.0,1757.4 L809.0,1757.1 L812.0,1756.7 L815.0,1756.4 L818.0,1756.0 L821.0,1755.6 L824.0,1755.2 L827.0,1754.8 L830.0,1754.4 L833.0,1753.9 L836.0,1753.5 L839.0,1753.0 L842.0,1752.5 L845.0,1752.0 L848.0,1751.4 L851.0,1750.9 L854.0,1750.3 L857.0,1749.8 L860.0,1749.2 L863.0,1748.6 L866.0,1748.0 L869.0,1747.3 L872.0,1746.7 L875.0,1746.0 L878.0,1745.3 L881.0,1744.6 L884.0,1743.9 L887.0,1743.2 L890.0,1742.5 L893.0,1741.8 L896.0,1741.0 L899.0,1740.3 L902.0,1739.5 L905.0,1738.7 L908.0,1737.9 L911.0,1737.1 L914.0,1736.2 L917.0,1735.4 L920.0,1734.5 L923.0,1733.5 L926.0,1732.6 L929.0,1731.6 L932.0,1730.5 L935.0,1729.5 L938.0,1728.4 L941.0,1727.3 L944.0,1726.2 L947.0,1725.1 L950.0,1724.0 L953.0,1722.9 L956.0,1721.7 L959.0,1720.6 L962.0,1719.4 L965.0,1718.2 L968.0,1717.1 L971.0,1715.9 L974.0,1714.7 L977.0,1713.5 L980.0,1712.3 L983.0,1711.1 L986.0,1709.9 L989.0,1708.7 L992.0,1707.5 L995.0,1706.3 L998.0,1705.1 L1001.0,1703.9 L1004.0,1702.7 L1007.0,1701.5 L1010.0,1700.3 L1013.0,1699.1 L1016.0,1697.9 L1019.0,1696.7 L1022.0,1695.4 L1025.0,1694.2 L1028.0,1693.0 L1031.0,1691.8 L1034.0,1690.6 L1037.0,1689.4 L1040.0,1688.2 L1043.0,1687.0 L1046.0,1685.7 L1049.0,1684.5 L1052.0,1683.3 L1055.0,1682.1 L1058.0,1680.9 L1061.0,1679.7 L1064.0,1678.5 L1067.0,1677.2 L1070.0,1676.0 L1073.0,1674.8 L1076.0,1673.6 L1079.0,1672.4 L1082.0,1671.2 L1085.0,1670.0 L1088.0,1668.7 L1091.0,1667.5 L1094.0,1666.3 L1097.0,1665.1 L1100.0,1663.9 L1103.0,1662.7 L1106.0,1661.5 L1109.0,1660.2 L1112.0,1659.0 L1115.0,1657.8 L1118.0,1656.6 L1121.0,1655.4 L1124.0,1654.1 L1127.0,1652.9 L1130.0,1651.7 L1133.0,1650.4 L1136.0,1649.2 L1139.0,1648.0 L1142.0,1646.8 L1145.0,1645.5 L1148.0,1644.3 L1151.0,1643.1 L1154.0,1641.9 L1157.0,1640.7 L1160.0,1639.5 L1163.0,1638.3 L1166.0,1637.1 L1169.0,1635.9 L1172.0,1634.7 L1175.0,1633.5 L1178.0,1632.3 L1181.0,1631.1 L1184.0,1629.9 L1187.0,1628.8 L1190.0,1627.6 L1193.0,1626.4 L1196.0,1625.3 L1199.0,1624.1 L1202.0,1623.1 L1205.0,1622.0 L1208.0,1621.1 L1211.0,1620.1 L1214.0,1619.3 L1217.0,1618.5 L1220.0,1617.8 L1223.0,1617.2 L1226.0,1616.7 L1229.0,1616.2 L1232.0,1615.7 L1235.0,1615.3 L1238.0,1614.9 L1241.0,1614.4 L1244.0,1614.0 L1247.0,1613.5 L1250.0,1613.1 L1253.0,1612.6 L1256.0,1612.1 L1259.0,1611.7 L1262.0,1611.2 L1265.0,1610.8 L1268.0,1610.3 L1271.0,1609.9 L1274.0,1609.4 L1277.0,1608.9 L1280.0,1608.5 L1283.0,1608.0 L1286.0,1607.6 L1289.0,1607.2 L1292.0,1606.7 L1295.0,1606.3 L1298.0,1605.8 L1301.0,1605.3 L1304.0,1604.9 L1307.0,1604.4 L1310.0,1604.0 L1313.0,1603.5 L1316.0,1603.1 L1319.0,1602.6 L1322.0,1602.1 L1325.0,1601.7 L1328.0,1601.2 L1331.0,1600.8 L1334.0,1600.3" fill="none" stroke="#000000" stroke-width="8" stroke-linejoin="round"/>
<line x1="831.6" y1="1756.2" x2="896" y2="1755.8" stroke="#fff" stroke-width="2" style="mix-blend-mode:difference"/>
<line x1="840.6" y1="1768.5" x2="892" y2="1746.6" stroke="#fff" stroke-width="2" style="mix-blend-mode:difference"/>
<rect x="865.20" y="1755" width="3.6" height="25.700000000000045" fill="#000000"/>
<path d="M860.0,1778.7 L874.0,1778.7 L874.0,1789.0 L871.4,1789.0 L871.4,1796.5 L869.9,1796.5 L867,1805.7 L864.1,1796.5 L862.6,1796.5 L862.6,1789.0 L860.0,1789.0 Z" fill="#000000"/>
</svg>
</body></html>
